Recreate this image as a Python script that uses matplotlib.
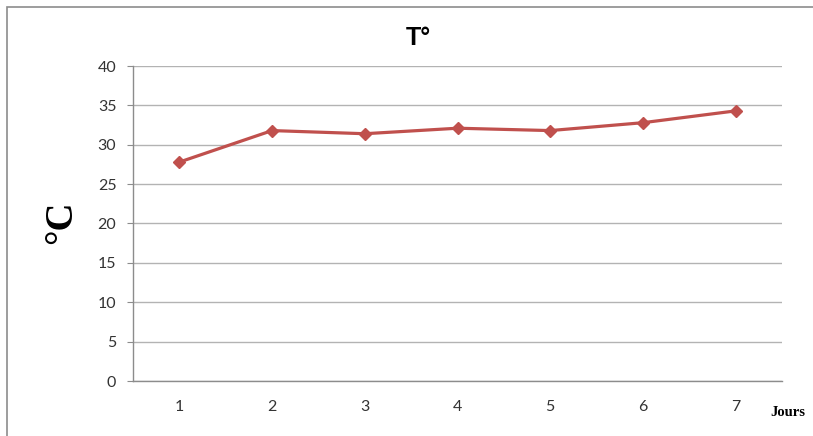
import matplotlib.pyplot as plt
from matplotlib.patches import Rectangle

# Data
days = [1, 2, 3, 4, 5, 6, 7]
temps = [27.8, 31.8, 31.4, 32.1, 31.8, 32.8, 34.3]
y_ticks = [0, 5, 10, 15, 20, 25, 30, 35, 40]

fig = plt.figure(figsize=(8.13, 4.36), dpi=100)
ax = fig.add_axes([133 / 813, 55 / 436, 649 / 813, 315 / 436])

# Outer chart border (Excel style)
fig.patches.append(Rectangle((7 / 813, -0.05), 1.2, (436 - 7) / 436 + 0.05,
                             transform=fig.transFigure, fill=False,
                             edgecolor='#8c8c8c', linewidth=1.2))

ax.plot(days, temps, color='#C0504D', linewidth=2.3, marker='D', markersize=6.5,
        markeredgecolor='#C0504D', markerfacecolor='#C0504D', zorder=3)

ax.set_xlim(0.5, 7.5)
ax.set_ylim(0, 40)
ax.set_yticks(y_ticks)
ax.set_xticks(days)
ax.grid(axis='y', color='#b3b3b3', linewidth=1)
ax.set_axisbelow(True)

for side in ['top', 'right']:
    ax.spines[side].set_visible(False)
for side in ['left', 'bottom']:
    ax.spines[side].set_color('#8c8c8c')
    ax.spines[side].set_linewidth(1)

ax.tick_params(axis='y', length=4, color='#8c8c8c', labelsize=11.5, pad=8, labelcolor='#333333')
ax.tick_params(axis='x', length=0, labelsize=11.5, pad=14, labelcolor='#333333')
for lbl in ax.get_xticklabels() + ax.get_yticklabels():
    lbl.set_family('Lato')

fig.text(418 / 813, 1 - 38 / 436, 'T°', ha='center', va='center', fontsize=18,
         fontweight='bold', family='Liberation Sans')
fig.text(62 / 813, 1 - 222 / 436, '°C', ha='center', va='center', rotation=90,
         fontsize=28, fontweight='bold', family='Liberation Serif')
fig.text(788 / 813, 1 - 412 / 436, 'Jours', ha='center', va='center', fontsize=10.5,
         fontweight='bold', family='Liberation Serif')

fig.savefig('out.png', dpi=100)
